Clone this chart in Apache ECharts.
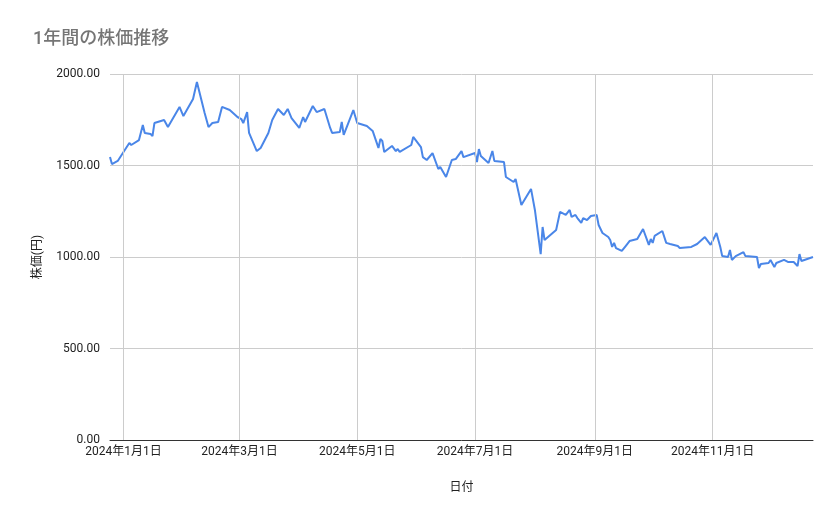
<!DOCTYPE html>
<html><head><meta charset="utf-8">
<script src="https://cdn.jsdelivr.net/npm/echarts@6/dist/echarts.min.js"></script>
<style>html,body{margin:0;padding:0;background:#fff}#c{width:839px;height:519px}</style>
</head><body><div id="c"></div>
<script>
const dayOffsets = [-7,-6,-3,3,4,8,10,11,14,15,16,21,23,24,29,31,36,38,42,44,46,49,50,51,55,59,61,62,64,65,69,71,75,77,80,83,85,87,91,93,94,98,100,104,107,108,112,113,114,119,121,126,129,132,133,134,135,139,141,142,143,149,150,154,155,157,160,163,164,167,170,172,175,176,182,183,184,185,189,191,192,197,198,202,203,206,211,213,216,217,218,224,226,229,231,232,234,235,237,238,240,242,245,246,248,251,252,253,254,255,258,260,262,266,269,272,273,274,275,279,281,283,284,287,288,294,297,301,302,304,307,309,310,313,314,315,317,321,322,328,329,330,334,335,337,338,342,344,347,349,350,351,357];
const prices = [1547,1508,1525,1623,1612,1639,1721,1678,1672,1661,1732,1749,1710,1705,1820,1770,1863,1956,1787,1710,1732,1738,1732,1820,1803,1765,1754,1732,1792,1678,1579,1596,1678,1749,1809,1776,1809,1759,1705,1765,1738,1825,1792,1809,1705,1678,1683,1738,1667,1803,1732,1716,1689,1596,1645,1634,1574,1607,1579,1590,1574,1612,1656,1601,1546,1530,1568,1481,1492,1437,1530,1535,1579,1546,1568,1519,1590,1552,1514,1579,1525,1519,1437,1410,1426,1284,1372,1257,1016,1164,1093,1148,1246,1230,1257,1219,1230,1213,1186,1213,1202,1224,1230,1175,1131,1109,1093,1055,1077,1049,1033,1060,1087,1098,1153,1066,1098,1077,1115,1142,1077,1071,1066,1060,1049,1055,1071,1109,1104,1066,1131,1055,1005,1000,1038,984,1005,1027,1005,1000,940,962,967,984,945,967,984,973,973,951,1016,978,1000];
const tickDays = [0,60,121,182,244,305];
const tickLabels = ['2024年1月1日','2024年3月1日','2024年5月1日','2024年7月1日','2024年9月1日','2024年11月1日'];
const yTicks = [0,500,1000,1500,2000];

const font = 'Roboto, "Noto Sans CJK JP", sans-serif';
const chart = echarts.init(document.getElementById('c'));
chart.setOption({
  backgroundColor:'#fff',
  animation:false,
  textStyle:{fontFamily:font},
  title:{text:'1年間の株価推移',left:28,top:26,textStyle:{fontSize:18,fontWeight:500,color:'#757575',fontFamily:font}},
  grid:{left:110,right:26,top:74,bottom:79},
  xAxis:{type:'value',min:-7,max:357,axisLabel:{show:false},axisTick:{show:false},splitLine:{show:false},
    axisLine:{show:true,lineStyle:{color:'#333'}},
    name:'日付',nameLocation:'middle',nameGap:42,nameTextStyle:{fontSize:12,color:'#222'}},
  yAxis:{type:'value',min:yTicks[0],max:yTicks[yTicks.length-1],interval:500,
    axisLabel:{formatter:v=>v.toFixed(2),color:'#222',fontSize:12,margin:10},
    axisLine:{show:false},axisTick:{show:false},splitLine:{lineStyle:{color:'#ccc'}},
    name:'株価(円)',nameLocation:'middle',nameGap:66,nameTextStyle:{fontSize:12,color:'#222'}},
  series:[{type:'line',data:dayOffsets.map((d,i)=>[d,prices[i]]),showSymbol:false,
    lineStyle:{color:'#4a86e8',width:2},itemStyle:{color:'#4a86e8'},
    markLine:{silent:true,symbol:'none',lineStyle:{color:'#ccc',type:'solid',width:1},
      label:{position:'start',distance:6,color:'#222',fontSize:12,fontFamily:font,formatter:p=>tickLabels[tickDays.indexOf(p.value)]},
      data:tickDays.map(d=>({xAxis:d}))}}]
});
</script></body></html>
